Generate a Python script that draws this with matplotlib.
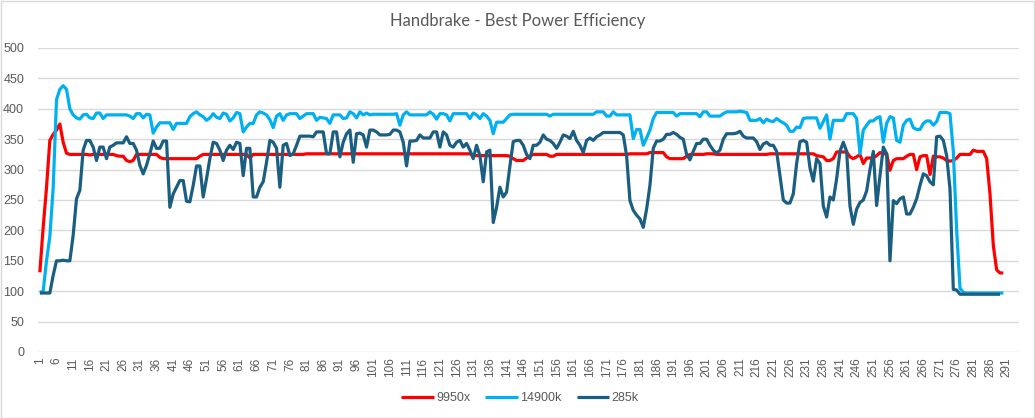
import matplotlib
matplotlib.use("Agg")
import matplotlib.pyplot as plt
from matplotlib.patches import Rectangle

title = "Handbrake - Best Power Efficiency"
series_names = ["9950x", "14900k", "285k"]
colors = ["#FF0000", "#00B0F0", "#1A5E82"]

r9950x = [
    131, 205, 270, 348, 358, 365, 375, 345, 327, 325,
    325, 325, 325, 325, 325, 324, 325, 325, 325, 325,
    325, 325, 325, 323, 322, 322, 315, 313, 315, 325,
    325, 325, 325, 325, 325, 325, 320, 318, 318, 318,
    318, 318, 318, 318, 318, 318, 318, 318, 322, 325,
    325, 325, 325, 325, 325, 325, 325, 325, 325, 325,
    325, 325, 325, 319, 325, 325, 325, 325, 325, 325,
    325, 325, 325, 325, 325, 325, 325, 325, 325, 325,
    326, 326, 326, 326, 326, 326, 326, 326, 326, 326,
    326, 326, 326, 326, 326, 326, 326, 326, 326, 326,
    326, 326, 326, 326, 326, 326, 326, 326, 326, 326,
    326, 326, 326, 326, 326, 326, 326, 326, 326, 326,
    326, 326, 326, 326, 326, 326, 326, 326, 326, 326,
    323, 323, 323, 323, 323, 323, 323, 323, 323, 323,
    323, 322, 318, 315, 315, 315, 319, 322, 325, 325,
    325, 325, 325, 322, 322, 325, 325, 325, 325, 325,
    325, 325, 325, 325, 325, 325, 325, 325, 325, 325,
    325, 325, 325, 325, 325, 325, 325, 326, 326, 326,
    326, 326, 326, 328, 328, 328, 328, 328, 321, 318,
    318, 318, 318, 318, 322, 325, 325, 325, 325, 325,
    326, 326, 326, 325, 325, 325, 325, 325, 325, 325,
    325, 325, 325, 325, 325, 325, 325, 325, 325, 326,
    326, 326, 326, 326, 326, 326, 326, 326, 326, 326,
    326, 326, 326, 323, 322, 321, 315, 315, 318, 329,
    329, 329, 329, 321, 318, 321, 325, 310, 319, 319,
    319, 323, 328, 326, 326, 299, 315, 318, 318, 318,
    322, 325, 325, 300, 321, 323, 323, 292, 322, 321,
    321, 319, 315, 314, 315, 319, 325, 325, 325, 325,
    332, 330, 330, 330, 318, 260, 175, 135, 130, 130,
]

r14900k = [
    98, 100, 150, 190, 270, 415, 432, 438, 432, 400,
    390, 385, 383, 390, 391, 385, 384, 393, 393, 384,
    390, 390, 390, 390, 390, 390, 390, 388, 384, 392,
    392, 385, 391, 390, 360, 370, 377, 377, 377, 377,
    366, 376, 376, 376, 376, 387, 392, 395, 390, 387,
    381, 385, 392, 386, 384, 393, 391, 380, 385, 394,
    392, 362, 370, 376, 376, 390, 395, 393, 390, 382,
    369, 388, 392, 381, 390, 392, 392, 392, 384, 388,
    392, 392, 392, 381, 386, 385, 384, 376, 390, 390,
    390, 384, 385, 395, 392, 385, 395, 390, 393, 390,
    391, 391, 391, 391, 391, 391, 391, 392, 373, 390,
    395, 390, 390, 390, 390, 390, 390, 395, 391, 383,
    392, 392, 390, 380, 392, 392, 392, 392, 392, 384,
    393, 390, 384, 392, 388, 381, 359, 378, 378, 378,
    384, 390, 391, 391, 391, 391, 391, 391, 391, 391,
    391, 391, 391, 388, 391, 391, 391, 391, 391, 391,
    391, 391, 391, 391, 391, 391, 391, 395, 395, 395,
    388, 388, 395, 390, 390, 390, 390, 390, 351, 366,
    366, 340, 352, 365, 384, 394, 394, 394, 394, 394,
    394, 388, 392, 392, 392, 392, 392, 392, 387, 395,
    395, 388, 388, 388, 388, 392, 395, 395, 395, 395,
    396, 395, 394, 381, 381, 381, 384, 377, 383, 380,
    379, 384, 380, 377, 373, 363, 363, 370, 369, 384,
    385, 385, 385, 385, 368, 379, 390, 350, 381, 381,
    381, 381, 392, 392, 392, 384, 326, 365, 373, 380,
    380, 385, 387, 345, 376, 387, 385, 348, 345, 373,
    381, 383, 369, 366, 366, 376, 380, 380, 373, 379,
    394, 394, 394, 392, 330, 200, 105, 98, 97, 97,
    97, 97, 97, 97, 97, 97, 97, 97, 97, 97,
]

r285k = [
    97, 97, 97, 97, 126, 150, 150, 151, 150, 150,
    192, 252, 266, 332, 348, 348, 337, 315, 337, 337,
    318, 337, 340, 344, 344, 344, 354, 343, 343, 332,
    307, 293, 307, 326, 347, 335, 335, 347, 347, 238,
    260, 271, 282, 282, 248, 247, 274, 306, 306, 255,
    285, 318, 345, 343, 332, 315, 332, 340, 333, 345,
    343, 290, 335, 335, 255, 255, 271, 280, 312, 348,
    345, 335, 271, 340, 343, 323, 326, 340, 355, 355,
    355, 355, 354, 362, 362, 362, 326, 326, 362, 362,
    321, 345, 359, 365, 312, 359, 360, 357, 337, 365,
    365, 362, 357, 357, 357, 358, 365, 365, 362, 345,
    306, 347, 347, 348, 357, 352, 352, 352, 362, 362,
    337, 362, 357, 340, 337, 345, 348, 337, 343, 332,
    318, 340, 323, 280, 329, 332, 213, 238, 271, 255,
    263, 306, 346, 348, 348, 340, 325, 318, 340, 340,
    345, 357, 350, 348, 343, 335, 345, 357, 355, 351,
    363, 348, 340, 328, 348, 352, 348, 354, 357, 361,
    361, 361, 361, 361, 361, 357, 323, 249, 233, 225,
    219, 205, 235, 274, 335, 347, 347, 350, 358, 358,
    361, 358, 353, 350, 325, 316, 330, 343, 343, 350,
    350, 340, 332, 327, 332, 350, 359, 359, 359, 360,
    363, 355, 352, 352, 352, 346, 333, 342, 345, 340,
    340, 330, 290, 250, 245, 245, 260, 310, 346, 348,
    345, 303, 281, 318, 310, 240, 222, 255, 250, 285,
    330, 345, 330, 240, 210, 235, 246, 250, 265, 300,
    330, 241, 290, 337, 326, 150, 249, 244, 252, 255,
    227, 227, 238, 252, 274, 293, 290, 280, 275, 354,
    355, 348, 323, 268, 103, 102, 95, 95, 95, 95,
    95, 95, 95, 95, 95, 95, 95, 95, 95,
]

y_ticks = [0, 50, 100, 150, 200, 250, 300, 350, 400, 450, 500]
n_categories = 295
x_ticks = list(range(1, n_categories, 5))

W, H = 1035, 418
fig = plt.figure(figsize=(W / 100, H / 100), dpi=100)
ax = fig.add_axes([38 / W, 1 - 352 / H, (1019 - 38) / W, (352 - 48) / H])

text_color = "#595959"
grid_color = "#D9D9D9"

for name, vals, c in zip(series_names, [r9950x, r14900k, r285k], colors):
    xs = list(range(1, len(vals) + 1))
    ax.plot(xs, vals, color=c, lw=2.3, label=name, solid_joinstyle="round",
            solid_capstyle="butt")

ax.set_ylim(0, 500)
ax.set_xlim(0.45, 294.7)
ax.set_yticks(y_ticks)
ax.set_xticks(x_ticks)
ax.set_xticklabels([str(t) for t in x_ticks], rotation=90, fontsize=8.5,
                   color=text_color, family="Liberation Sans")
ax.set_yticklabels([str(t) for t in y_ticks], fontsize=9, color=text_color,
                   family="Liberation Sans")
ax.yaxis.grid(True, color=grid_color, lw=1)
ax.set_axisbelow(True)
ax.tick_params(axis="both", length=0, pad=4)
ax.tick_params(axis="y", pad=10)
for s in ax.spines.values():
    s.set_visible(False)

fig.text(518 / W, 1 - 21 / H, title, ha="center", va="center", fontsize=12,
         color=text_color, family="Lato")

leg = fig.legend(loc="center", bbox_to_anchor=(520 / W, 1 - 398 / H), ncol=3,
                 frameon=False, fontsize=9, handlelength=2.6, columnspacing=1.2,
                 handletextpad=0.2, labelcolor=text_color,
                 prop={"family": "Liberation Sans", "size": 9})

fig.patches.append(Rectangle((0.5 / W, 0.5 / H), 1 - 1.5 / W, 1 - 1.5 / H,
                             transform=fig.transFigure, fill=False,
                             edgecolor=grid_color, lw=1))

fig.savefig("out.png", dpi=100)
